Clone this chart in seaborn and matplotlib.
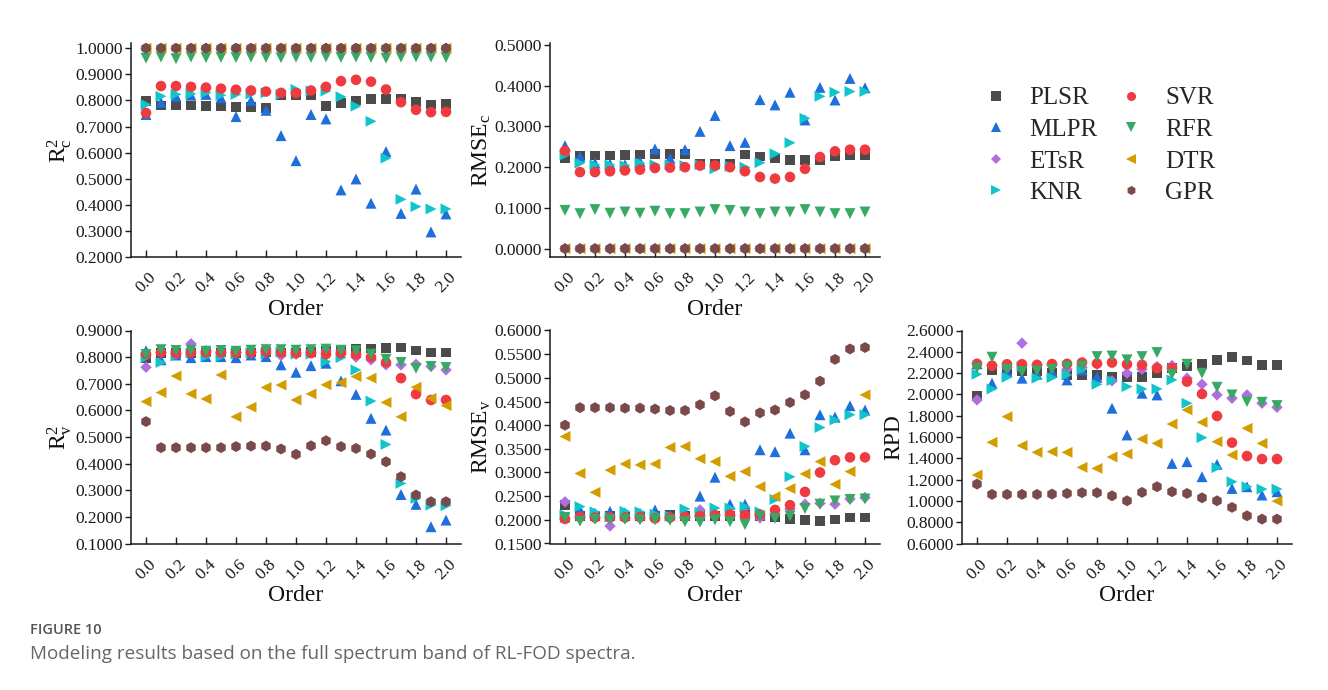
import numpy as np
import pandas as pd
import matplotlib
matplotlib.use("Agg")
import matplotlib.pyplot as plt
from matplotlib.lines import Line2D
import matplotlib.ticker as mticker
import seaborn as sns

# ---------------- data ----------------
orders = [round(0.1 * i, 1) for i in range(21)]
models = ["PLSR", "MLPR", "ETsR", "KNR", "SVR", "RFR", "DTR", "GPR"]

r2c = {
    "PLSR": [0.797, 0.780, 0.780, 0.780, 0.778, 0.777, 0.774, 0.774, 0.771, 0.820, 0.820, 0.821, 0.778, 0.791, 0.800, 0.805, 0.806, 0.806, 0.793, 0.785, 0.786],
    "MLPR": [0.746, 0.793, 0.816, 0.820, 0.823, 0.810, 0.738, 0.800, 0.762, 0.665, 0.569, 0.746, 0.729, 0.457, 0.499, 0.406, 0.604, 0.367, 0.460, 0.296, 0.365],
    "ETsR": [0.999] * 21,
    "KNR":  [0.784, 0.816, 0.823, 0.825, 0.829, 0.820, 0.823, 0.825, 0.829, 0.823, 0.842, 0.836, 0.836, 0.814, 0.778, 0.720, 0.579, 0.421, 0.393, 0.384, 0.384],
    "SVR":  [0.752, 0.855, 0.855, 0.852, 0.849, 0.845, 0.841, 0.838, 0.834, 0.829, 0.828, 0.838, 0.852, 0.874, 0.879, 0.872, 0.842, 0.793, 0.764, 0.755, 0.756],
    "RFR":  [0.962, 0.966, 0.960, 0.966, 0.964, 0.965, 0.964, 0.966, 0.965, 0.964, 0.966, 0.965, 0.967, 0.965, 0.966, 0.965, 0.962, 0.966, 0.967, 0.966, 0.965],
    "DTR":  [1.000] * 21,
    "GPR":  [1.000] * 21,
}

rmsec = {
    "PLSR": [0.221, 0.229, 0.229, 0.229, 0.230, 0.231, 0.233, 0.233, 0.233, 0.208, 0.208, 0.208, 0.231, 0.226, 0.222, 0.218, 0.217, 0.217, 0.226, 0.229, 0.229],
    "MLPR": [0.253, 0.226, 0.210, 0.208, 0.206, 0.214, 0.245, 0.222, 0.243, 0.288, 0.327, 0.253, 0.261, 0.366, 0.353, 0.384, 0.316, 0.396, 0.365, 0.418, 0.395],
    "ETsR": [0.000] * 21,
    "KNR":  [0.230, 0.210, 0.206, 0.206, 0.204, 0.210, 0.206, 0.206, 0.204, 0.206, 0.196, 0.202, 0.200, 0.211, 0.233, 0.260, 0.320, 0.374, 0.384, 0.386, 0.386],
    "SVR":  [0.240, 0.188, 0.188, 0.190, 0.192, 0.194, 0.198, 0.199, 0.200, 0.204, 0.204, 0.200, 0.190, 0.176, 0.172, 0.176, 0.196, 0.225, 0.239, 0.243, 0.243],
    "RFR":  [0.094, 0.086, 0.096, 0.087, 0.090, 0.087, 0.092, 0.086, 0.086, 0.090, 0.096, 0.094, 0.090, 0.086, 0.090, 0.090, 0.096, 0.090, 0.086, 0.086, 0.090],
    "DTR":  [0.000] * 21,
    "GPR":  [0.000] * 21,
}

r2v = {
    "PLSR": [0.795, 0.815, 0.815, 0.815, 0.818, 0.818, 0.815, 0.818, 0.820, 0.818, 0.818, 0.820, 0.822, 0.827, 0.830, 0.832, 0.834, 0.836, 0.825, 0.817, 0.817],
    "MLPR": [0.824, 0.790, 0.808, 0.798, 0.802, 0.802, 0.798, 0.808, 0.802, 0.771, 0.743, 0.768, 0.777, 0.711, 0.660, 0.570, 0.526, 0.284, 0.247, 0.163, 0.188],
    "ETsR": [0.762, 0.817, 0.811, 0.850, 0.824, 0.817, 0.817, 0.817, 0.830, 0.806, 0.811, 0.818, 0.824, 0.824, 0.800, 0.790, 0.771, 0.771, 0.773, 0.765, 0.752],
    "KNR":  [0.798, 0.780, 0.805, 0.815, 0.802, 0.802, 0.811, 0.817, 0.811, 0.819, 0.811, 0.811, 0.783, 0.798, 0.752, 0.635, 0.472, 0.326, 0.269, 0.244, 0.242],
    "SVR":  [0.812, 0.818, 0.815, 0.817, 0.818, 0.818, 0.816, 0.818, 0.820, 0.818, 0.815, 0.815, 0.811, 0.815, 0.810, 0.800, 0.780, 0.721, 0.661, 0.639, 0.639],
    "RFR":  [0.810, 0.828, 0.825, 0.826, 0.822, 0.825, 0.822, 0.826, 0.828, 0.828, 0.826, 0.828, 0.830, 0.826, 0.824, 0.811, 0.792, 0.780, 0.758, 0.765, 0.761],
    "DTR":  [0.633, 0.667, 0.729, 0.662, 0.643, 0.733, 0.576, 0.612, 0.686, 0.695, 0.639, 0.662, 0.696, 0.704, 0.727, 0.721, 0.630, 0.576, 0.687, 0.645, 0.618],
    "GPR":  [0.558, 0.460, 0.460, 0.460, 0.460, 0.460, 0.464, 0.466, 0.466, 0.455, 0.435, 0.467, 0.486, 0.464, 0.457, 0.436, 0.407, 0.351, 0.282, 0.257, 0.257],
}

rmsev = {
    "PLSR": [0.231, 0.208, 0.208, 0.208, 0.207, 0.207, 0.208, 0.210, 0.208, 0.208, 0.208, 0.208, 0.211, 0.208, 0.205, 0.202, 0.200, 0.197, 0.201, 0.205, 0.205],
    "MLPR": [0.206, 0.221, 0.214, 0.218, 0.215, 0.214, 0.221, 0.210, 0.214, 0.250, 0.290, 0.233, 0.233, 0.348, 0.344, 0.383, 0.348, 0.422, 0.417, 0.441, 0.432],
    "ETsR": [0.238, 0.204, 0.204, 0.187, 0.204, 0.203, 0.204, 0.203, 0.204, 0.221, 0.210, 0.208, 0.205, 0.204, 0.212, 0.223, 0.233, 0.235, 0.233, 0.244, 0.247],
    "KNR":  [0.211, 0.228, 0.217, 0.206, 0.218, 0.217, 0.212, 0.208, 0.223, 0.216, 0.225, 0.225, 0.228, 0.217, 0.243, 0.291, 0.355, 0.395, 0.411, 0.422, 0.422],
    "SVR":  [0.202, 0.206, 0.205, 0.205, 0.205, 0.206, 0.203, 0.205, 0.206, 0.208, 0.210, 0.211, 0.210, 0.211, 0.221, 0.231, 0.259, 0.300, 0.326, 0.332, 0.332],
    "RFR":  [0.205, 0.197, 0.201, 0.200, 0.201, 0.200, 0.200, 0.199, 0.196, 0.195, 0.200, 0.196, 0.190, 0.208, 0.203, 0.208, 0.224, 0.233, 0.240, 0.243, 0.244],
    "DTR":  [0.376, 0.298, 0.258, 0.305, 0.318, 0.316, 0.318, 0.353, 0.355, 0.329, 0.323, 0.292, 0.302, 0.270, 0.249, 0.266, 0.297, 0.323, 0.275, 0.302, 0.464],
    "GPR":  [0.400, 0.437, 0.437, 0.437, 0.436, 0.436, 0.434, 0.431, 0.431, 0.443, 0.462, 0.429, 0.407, 0.426, 0.432, 0.448, 0.464, 0.493, 0.539, 0.561, 0.564],
}

rpd = {
    "PLSR": [1.986, 2.230, 2.225, 2.222, 2.215, 2.200, 2.183, 2.183, 2.183, 2.161, 2.161, 2.161, 2.199, 2.246, 2.261, 2.287, 2.324, 2.349, 2.318, 2.277, 2.277],
    "MLPR": [2.287, 2.105, 2.214, 2.152, 2.189, 2.214, 2.136, 2.230, 2.161, 1.870, 1.619, 2.011, 1.995, 1.352, 1.368, 1.227, 1.343, 1.117, 1.133, 1.055, 1.086],
    "ETsR": [1.948, 2.271, 2.252, 2.481, 2.277, 2.277, 2.236, 2.252, 2.283, 2.127, 2.199, 2.236, 2.261, 2.271, 2.152, 2.095, 1.995, 1.964, 1.995, 1.917, 1.879],
    "KNR":  [2.189, 2.051, 2.161, 2.261, 2.152, 2.158, 2.183, 2.236, 2.095, 2.130, 2.073, 2.051, 2.051, 2.136, 1.917, 1.594, 1.312, 1.180, 1.133, 1.111, 1.111],
    "SVR":  [2.287, 2.270, 2.283, 2.283, 2.277, 2.285, 2.287, 2.299, 2.290, 2.299, 2.283, 2.277, 2.246, 2.246, 2.120, 2.004, 1.797, 1.547, 1.421, 1.393, 1.393],
    "RFR":  [2.246, 2.349, 2.236, 2.214, 2.221, 2.236, 2.261, 2.265, 2.355, 2.360, 2.324, 2.355, 2.393, 2.189, 2.283, 2.199, 2.067, 1.995, 1.932, 1.926, 1.895],
    "DTR":  [1.243, 1.550, 1.791, 1.519, 1.456, 1.462, 1.456, 1.315, 1.305, 1.412, 1.440, 1.581, 1.540, 1.722, 1.854, 1.738, 1.556, 1.431, 1.682, 1.540, 0.998],
    "GPR":  [1.158, 1.061, 1.061, 1.061, 1.061, 1.064, 1.070, 1.077, 1.077, 1.048, 1.001, 1.080, 1.133, 1.086, 1.070, 1.029, 1.001, 0.939, 0.860, 0.829, 0.829],
}

x_ticks = [0.0, 0.2, 0.4, 0.6, 0.8, 1.0, 1.2, 1.4, 1.6, 1.8, 2.0]

# ---------------- style ----------------
colors = {"PLSR": "#4b4b4b", "MLPR": "#1f6fdb", "ETsR": "#b06fe0", "KNR": "#10c4cc",
          "SVR": "#ef3a3f", "RFR": "#38a965", "DTR": "#d39d00", "GPR": "#7a4a4a"}
markers = {"PLSR": "s", "MLPR": "^", "ETsR": "D", "KNR": ">",
           "SVR": "o", "RFR": "v", "DTR": "<", "GPR": "h"}
sizes = {"PLSR": 48, "MLPR": 62, "ETsR": 34, "KNR": 62,
         "SVR": 58, "RFR": 62, "DTR": 62, "GPR": 62}

SERIF = ["Liberation Serif", "DejaVu Serif"]
sns.set_style("white")
plt.rcParams["font.family"] = SERIF
plt.rcParams["font.serif"] = SERIF
plt.rcParams["mathtext.fontset"] = "custom"
plt.rcParams["mathtext.rm"] = "Liberation Serif"
plt.rcParams["mathtext.it"] = "Liberation Serif:italic"

W, H = 1328, 690
fig = plt.figure(figsize=(W / 100, H / 100), dpi=100)
fig.patch.set_facecolor("white")


def rect(left, top, right, bottom):
    return [left / W, 1 - bottom / H, (right - left) / W, (bottom - top) / H]


panels = [
    (r2c, (0.2, 1.02), np.arange(0.2, 1.0001, 0.1), r"$\mathrm{R}^{2}_{\mathrm{c}}$", rect(131, 43, 461, 257)),
    (rmsec, (-0.0205, 0.505), np.arange(0.0, 0.5001, 0.1), r"$\mathrm{RMSE}_{\mathrm{c}}$", rect(550, 43, 880, 257)),
    (r2v, (0.1, 0.9), np.arange(0.1, 0.9001, 0.1), r"$\mathrm{R}^{2}_{\mathrm{v}}$", rect(131, 330.5, 461, 543.5)),
    (rmsev, (0.15, 0.6), np.arange(0.15, 0.6001, 0.05), r"$\mathrm{RMSE}_{\mathrm{v}}$", rect(550, 330.5, 880, 543.5)),
    (rpd, (0.6, 2.6), np.arange(0.6, 2.6001, 0.2), "RPD", rect(962, 330.5, 1292, 543.5)),
]

for values, ylim, yticks, ylabel, r in panels:
    ax = fig.add_axes(r)
    df = pd.DataFrame(
        [(m, o, v) for m in models for o, v in zip(orders, values[m])],
        columns=["Model", "Order", "Value"],
    )
    sns.scatterplot(
        data=df, x="Order", y="Value", hue="Model", style="Model", size="Model",
        hue_order=models, style_order=models, size_order=models,
        palette=colors, markers=markers, sizes=sizes, linewidth=0,
        legend=False, ax=ax, zorder=3,
    )
    ax.set_xlim(-0.1, 2.1)
    ax.set_ylim(*ylim)
    ax.set_yticks(yticks)
    ax.yaxis.set_major_formatter(mticker.FormatStrFormatter("%.4f"))
    ax.set_xticks(x_ticks)
    ax.xaxis.set_major_formatter(mticker.FormatStrFormatter("%.1f"))
    ax.tick_params(axis="y", direction="out", length=4, width=1, pad=2,
                   labelsize=12.5, colors="#1a1a1a", left=True,
                   labelfontfamily="Liberation Serif")
    ax.tick_params(axis="x", direction="in", length=5, width=1, pad=9,
                   labelsize=12.5, colors="#1a1a1a", bottom=True,
                   labelfontfamily="Liberation Serif")
    for lab in ax.get_xticklabels():
        lab.set_rotation(45)
        lab.set_ha("center")
    for s in ["top", "right"]:
        ax.spines[s].set_visible(False)
    for s in ["left", "bottom"]:
        ax.spines[s].set_color("#1a1a1a")
        ax.spines[s].set_linewidth(1.1)
    ax.set_xlabel("Order", fontsize=17, labelpad=2, color="#111111", family="Liberation Serif")
    ax.set_ylabel(ylabel, fontsize=17, labelpad=1, color="#111111", family="Liberation Serif")
    ax.set_facecolor("white")

# legend
handles = [Line2D([], [], linestyle="none", marker=markers[m], color=colors[m],
                  markersize=6.5 if markers[m] != "D" else 5.5, markeredgewidth=0)
           for m in models]
fig.legend(handles, models, ncol=2, frameon=False,
           prop={"family": "Liberation Serif", "size": 18},
           loc="upper left", bbox_to_anchor=(983 / W, 1 - 87 / H),
           borderaxespad=0, borderpad=0, handlelength=1.0, handletextpad=0.85,
           labelspacing=0.36, columnspacing=0.85)

# caption
fig.text(30 / W, 1 - 630 / H, "FIGURE 10", family="Open Sans", weight="semibold",
         fontsize=10.5, color="#555555", va="center", ha="left")
fig.text(30 / W, 1 - 654 / H, "Modeling results based on the full spectrum band of RL-FOD spectra.",
         family="Open Sans", fontsize=13.6, color="#666666", va="center", ha="left")

fig.savefig("out.png", dpi=100, facecolor="white")
